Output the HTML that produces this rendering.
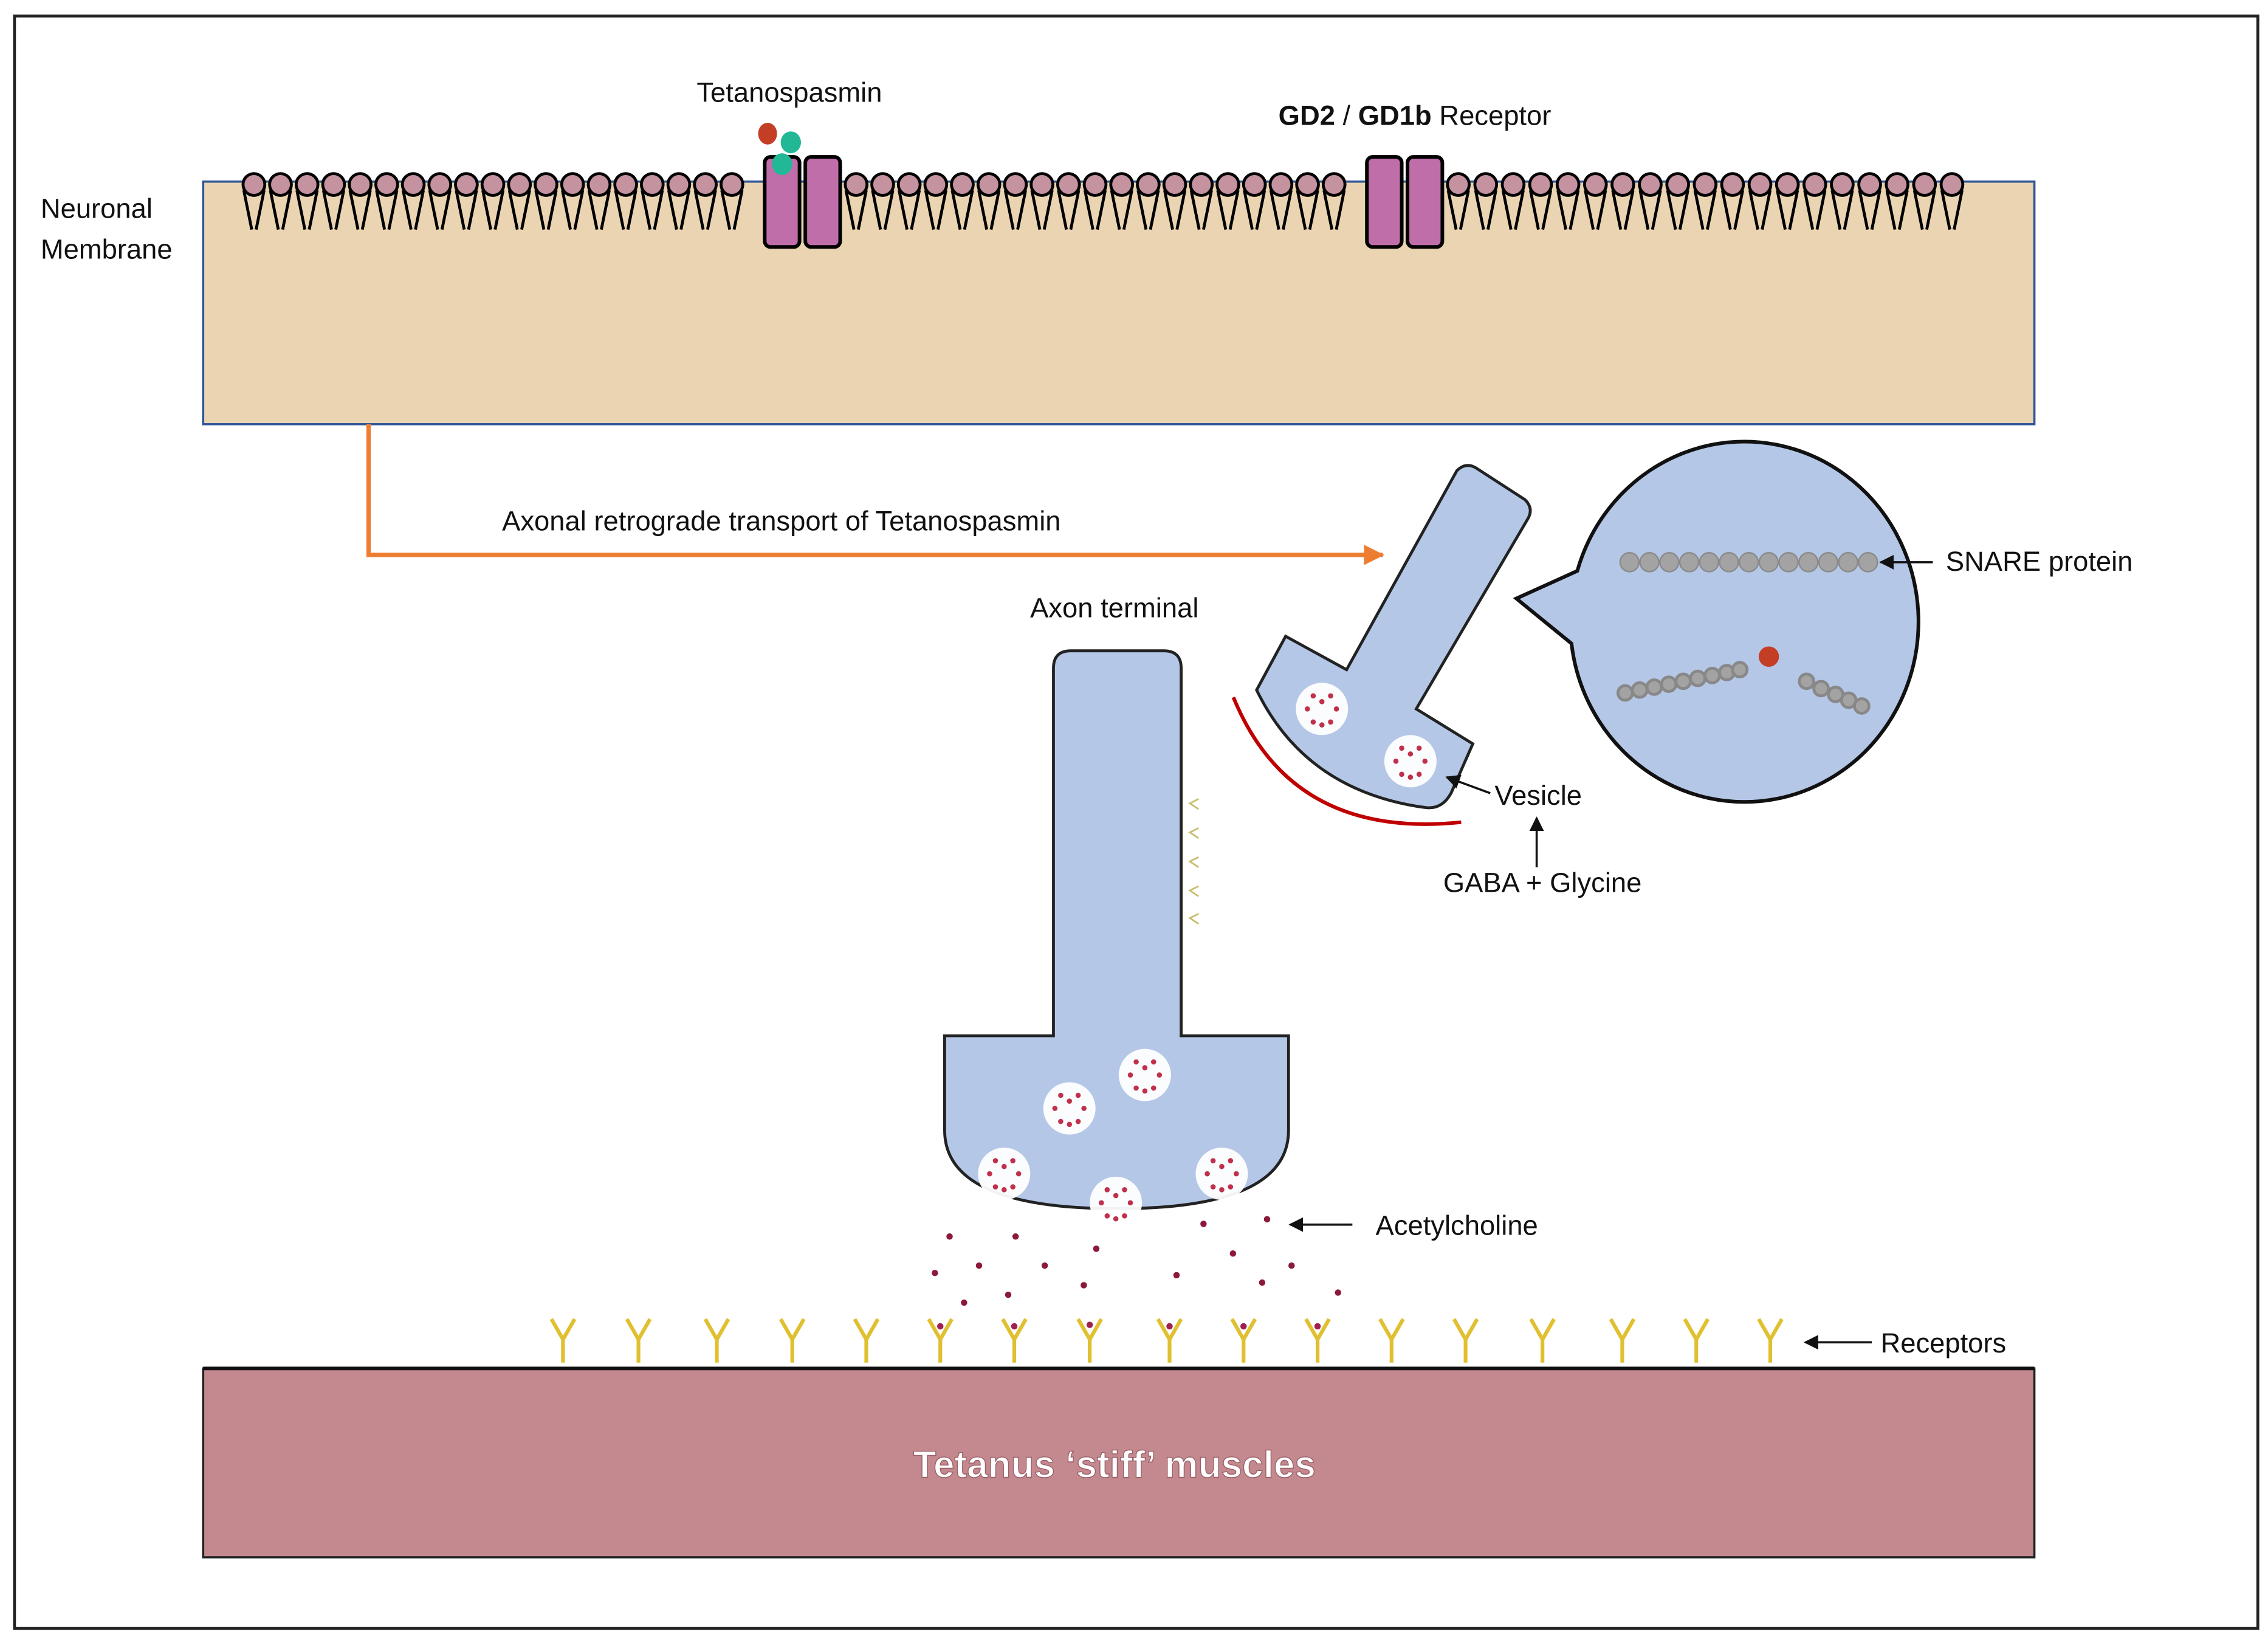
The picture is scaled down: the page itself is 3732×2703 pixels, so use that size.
<!DOCTYPE html>
<html><head><meta charset="utf-8"><style>
html,body{margin:0;padding:0;background:#fff}
svg{display:block}
text{font-family:"Liberation Sans",sans-serif;font-size:19px;fill:#111}
</style></head><body>
<svg width="3732" height="2703" viewBox="0 0 1563 1131" preserveAspectRatio="none" xmlns="http://www.w3.org/2000/svg">
<defs>
<g id="lip"><path d="M-7,4 L-1.5,31 M7,4 L1.5,31" stroke="#000" stroke-width="2" fill="none"/><circle r="7.5" fill="#C4939F" stroke="#000" stroke-width="2"/></g>
<g id="ves"><circle r="18" fill="#fff" opacity="0.95"/>
<g fill="#C0304A"><circle cx="-6" cy="-9" r="1.8"/><circle cx="6" cy="-9" r="1.8"/><circle cx="0" cy="-5" r="1.8"/><circle cx="-10" cy="0" r="1.8"/><circle cx="10" cy="0" r="1.8"/><circle cx="-6" cy="9" r="1.8"/><circle cx="6" cy="9" r="1.8"/><circle cx="0" cy="11" r="1.8"/></g></g>
<g id="rec"><path d="M-8,-14 L0,0 L8,-14 M0,0 V16" stroke="#E0C030" stroke-width="2.6" fill="none"/></g>
<g id="sn"><circle r="6.5" fill="#A3A3A3" stroke="#8a8a8a" stroke-width="1"/></g>
<g id="sn2"><circle r="5" fill="#A3A3A3" stroke="#888" stroke-width="2"/></g>
<marker id="ah" markerWidth="10" markerHeight="10" refX="9" refY="5" orient="auto" markerUnits="userSpaceOnUse"><path d="M0,0 L10,5 L0,10 Z" fill="#111"/></marker>
<marker id="ao" markerWidth="14" markerHeight="14" refX="13" refY="7" orient="auto" markerUnits="userSpaceOnUse"><path d="M0,0 L14,7 L0,14 Z" fill="#ED7D31"/></marker>
</defs>
<rect x="10" y="11" width="1546" height="1110" fill="#fff" stroke="#222" stroke-width="2"/>
<rect x="140" y="125" width="1262" height="167" fill="#EAD4B2" stroke="#2F5597" stroke-width="1.5"/>
<g>
<use href="#lip" x="175" y="127"/><use href="#lip" x="193.3" y="127"/><use href="#lip" x="211.6" y="127"/><use href="#lip" x="229.9" y="127"/><use href="#lip" x="248.2" y="127"/><use href="#lip" x="266.5" y="127"/><use href="#lip" x="284.8" y="127"/><use href="#lip" x="303.1" y="127"/><use href="#lip" x="321.4" y="127"/><use href="#lip" x="339.7" y="127"/><use href="#lip" x="358" y="127"/><use href="#lip" x="376.3" y="127"/><use href="#lip" x="394.6" y="127"/><use href="#lip" x="412.9" y="127"/><use href="#lip" x="431.2" y="127"/><use href="#lip" x="449.5" y="127"/><use href="#lip" x="467.8" y="127"/><use href="#lip" x="486.1" y="127"/><use href="#lip" x="504.4" y="127"/>
<use href="#lip" x="590" y="127"/><use href="#lip" x="608.3" y="127"/><use href="#lip" x="626.6" y="127"/><use href="#lip" x="644.9" y="127"/><use href="#lip" x="663.2" y="127"/><use href="#lip" x="681.5" y="127"/><use href="#lip" x="699.8" y="127"/><use href="#lip" x="718.1" y="127"/><use href="#lip" x="736.4" y="127"/><use href="#lip" x="754.7" y="127"/><use href="#lip" x="773" y="127"/><use href="#lip" x="791.3" y="127"/><use href="#lip" x="809.6" y="127"/><use href="#lip" x="827.9" y="127"/><use href="#lip" x="846.2" y="127"/><use href="#lip" x="864.5" y="127"/><use href="#lip" x="882.8" y="127"/><use href="#lip" x="901.1" y="127"/><use href="#lip" x="919.4" y="127"/>
<use href="#lip" x="1005" y="127"/><use href="#lip" x="1023.9" y="127"/><use href="#lip" x="1042.8" y="127"/><use href="#lip" x="1061.7" y="127"/><use href="#lip" x="1080.6" y="127"/><use href="#lip" x="1099.5" y="127"/><use href="#lip" x="1118.4" y="127"/><use href="#lip" x="1137.3" y="127"/><use href="#lip" x="1156.2" y="127"/><use href="#lip" x="1175.1" y="127"/><use href="#lip" x="1194" y="127"/><use href="#lip" x="1212.9" y="127"/><use href="#lip" x="1231.8" y="127"/><use href="#lip" x="1250.7" y="127"/><use href="#lip" x="1269.6" y="127"/><use href="#lip" x="1288.5" y="127"/><use href="#lip" x="1307.4" y="127"/><use href="#lip" x="1326.3" y="127"/><use href="#lip" x="1345.2" y="127"/>
</g>
<g fill="#C06EAA" stroke="#000" stroke-width="2.5">
<rect x="527" y="108" width="24" height="62" rx="4"/><rect x="555" y="108" width="24" height="62" rx="4"/>
<rect x="942" y="108" width="24" height="62" rx="4"/><rect x="970" y="108" width="24" height="62" rx="4"/>
</g>
<ellipse cx="529" cy="92" rx="6.5" ry="7.5" fill="#C43E26"/>
<ellipse cx="545" cy="98" rx="7" ry="7.5" fill="#22B896"/>
<ellipse cx="539" cy="113" rx="7" ry="7.5" fill="#22B896"/>
<text x="544" y="70" text-anchor="middle">Tetanospasmin</text>
<text x="975" y="86" text-anchor="middle"><tspan font-weight="bold">GD2</tspan> / <tspan font-weight="bold">GD1b</tspan> Receptor</text>
<text x="28" y="150">Neuronal</text>
<text x="28" y="178">Membrane</text>
<path d="M254,292 V382 H953" stroke="#ED7D31" stroke-width="3" fill="none" marker-end="url(#ao)"/>
<text x="346" y="365">Axonal retrograde transport of Tetanospasmin</text>
<text x="768" y="425" text-anchor="middle">Axon terminal</text>
<path d="M726,713 V460 Q726,448 738,448 H802 Q814,448 814,460 V713 H888 V778 Q888,832 770,832 Q651,832 651,778 V713 Z" fill="#B4C7E7" stroke="#222" stroke-width="2"/>
<use href="#ves" x="789" y="740"/><use href="#ves" x="737" y="763"/><use href="#ves" x="692" y="808"/><use href="#ves" x="769" y="828"/><use href="#ves" x="842" y="808"/>
<g stroke="#C8C070" stroke-width="1.2" fill="none">
<path d="M826,550 L820,553 L826,557"/><path d="M826,570 L820,573 L826,577"/><path d="M826,590 L820,593 L826,597"/><path d="M826,610 L820,613 L826,617"/><path d="M826,629 L820,632 L826,636"/>
</g>
<path d="M1004,324 Q1010,318 1017,322 L1051,344 Q1057,350 1053,357 L976,488 L1015,512 L1000,546 Q994,557 983,556 Q900,545 866,475 L886,438 L928,461 Z" fill="#B4C7E7" stroke="#222" stroke-width="2"/>
<use href="#ves" x="911" y="488"/><use href="#ves" x="972" y="524"/>
<path d="M850,480 Q890,578 1007,566" stroke="#C00000" stroke-width="2.5" fill="none"/>
<line x1="1027" y1="546" x2="997" y2="535" stroke="#111" stroke-width="1.5" marker-end="url(#ah)"/>
<text x="1030" y="554">Vesicle</text>
<line x1="1059" y1="597" x2="1059" y2="563" stroke="#111" stroke-width="1.5" marker-end="url(#ah)"/>
<text x="1063" y="614" text-anchor="middle">GABA + Glycine</text>
<path d="M1087,393 L1045,412 L1083,443 A120,124 0 1 0 1087,393 Z" fill="#B4C7E7" stroke="#111" stroke-width="2.5" stroke-linejoin="miter"/>
<g>
<use href="#sn" x="1123" y="387"/><use href="#sn" x="1136.7" y="387"/><use href="#sn" x="1150.4" y="387"/><use href="#sn" x="1164.1" y="387"/><use href="#sn" x="1177.8" y="387"/><use href="#sn" x="1191.5" y="387"/><use href="#sn" x="1205.2" y="387"/><use href="#sn" x="1218.9" y="387"/><use href="#sn" x="1232.6" y="387"/><use href="#sn" x="1246.3" y="387"/><use href="#sn" x="1260" y="387"/><use href="#sn" x="1273.7" y="387"/><use href="#sn" x="1287.4" y="387"/>
<use href="#sn2" x="1120" y="477"/><use href="#sn2" x="1130" y="475"/><use href="#sn2" x="1140" y="473"/><use href="#sn2" x="1150" y="471"/><use href="#sn2" x="1160" y="469"/><use href="#sn2" x="1170" y="467"/><use href="#sn2" x="1180" y="465"/><use href="#sn2" x="1190" y="463"/><use href="#sn2" x="1199" y="461"/>
<use href="#sn2" x="1245" y="469"/><use href="#sn2" x="1255" y="474"/><use href="#sn2" x="1265" y="478"/><use href="#sn2" x="1274" y="482"/><use href="#sn2" x="1283" y="486"/>
</g>
<circle cx="1219" cy="452" r="7" fill="#C43E26"/>
<line x1="1332" y1="387" x2="1296" y2="387" stroke="#111" stroke-width="1.5" marker-end="url(#ah)"/>
<text x="1341" y="393">SNARE protein</text>
<g fill="#8B1A3A">
<circle cx="654.4" cy="851.2" r="2.2"/><circle cx="699.9" cy="851.2" r="2.2"/><circle cx="755.5" cy="859.6" r="2.2"/><circle cx="674.7" cy="871.2" r="2.2"/><circle cx="720" cy="871.2" r="2.2"/><circle cx="644.3" cy="876.3" r="2.2"/><circle cx="746.9" cy="884.7" r="2.2"/><circle cx="694.8" cy="891.3" r="2.2"/><circle cx="664.4" cy="896.7" r="2.2"/><circle cx="829.4" cy="842.5" r="2.2"/><circle cx="873.2" cy="839.3" r="2.2"/><circle cx="849.7" cy="862.9" r="2.2"/><circle cx="890.1" cy="871.2" r="2.2"/><circle cx="810.8" cy="877.8" r="2.2"/><circle cx="869.8" cy="882.9" r="2.2"/><circle cx="922.1" cy="889.8" r="2.2"/>
</g>
<line x1="932" y1="843" x2="889" y2="843" stroke="#111" stroke-width="1.5" marker-end="url(#ah)"/>
<text x="948" y="850">Acetylcholine</text>
<g>
<use href="#rec" x="388" y="922"/><use href="#rec" x="440" y="922"/><use href="#rec" x="494" y="922"/><use href="#rec" x="546" y="922"/><use href="#rec" x="597" y="922"/><use href="#rec" x="648" y="922"/><use href="#rec" x="699" y="922"/><use href="#rec" x="751" y="922"/><use href="#rec" x="806" y="922"/><use href="#rec" x="857" y="922"/><use href="#rec" x="908" y="922"/><use href="#rec" x="959" y="922"/><use href="#rec" x="1010" y="922"/><use href="#rec" x="1063" y="922"/><use href="#rec" x="1118" y="922"/><use href="#rec" x="1169" y="922"/><use href="#rec" x="1220" y="922"/>
</g>
<g fill="#A02050">
<circle cx="648" cy="913" r="2.2"/><circle cx="699" cy="913" r="2.2"/><circle cx="751" cy="912" r="2.2"/><circle cx="806" cy="913" r="2.2"/><circle cx="857" cy="913" r="2.2"/><circle cx="908" cy="913" r="2.2"/>
</g>
<line x1="1290" y1="924" x2="1244" y2="924" stroke="#111" stroke-width="1.5" marker-end="url(#ah)"/>
<text x="1296" y="931">Receptors</text>
<rect x="140" y="942" width="1262" height="130" fill="#C4898F" stroke="#222" stroke-width="1.5"/>
<line x1="140" y1="942" x2="1402" y2="942" stroke="#111" stroke-width="2.5"/>
<text x="768" y="1017" text-anchor="middle" style="font-size:26px;fill:#fff;font-weight:bold;" stroke="#9a6068" stroke-width="0.6">Tetanus ‘stiff’ muscles</text>
</svg>
</body></html>
